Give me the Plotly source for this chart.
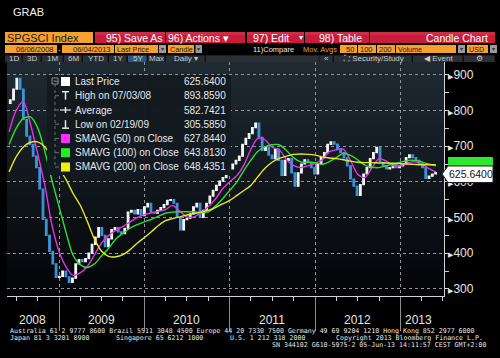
import plotly.graph_objects as go
import pandas as pd

W, H = 500, 358

# ---------------- data ----------------
price_start = "2008-06-06"
price_close = [
    830, 860, 890, 860, 775, 728, 705, 672, 640, 580,
    495, 450, 405, 370, 332, 335, 350, 334, 318, 330,
    370, 382, 376, 385, 400, 425, 445, 472, 450, 418,
    440, 466, 472, 460, 455, 470, 515, 520, 510, 522,
    505, 530, 540, 515, 512, 520, 528, 536, 548, 550,
    540, 500, 465, 494, 498, 510, 530, 540, 500, 520,
    540, 560, 576, 590, 602, 612, 625, 636, 650, 660,
    672, 705, 722, 735, 752, 765, 725, 688, 698, 675,
    665, 692, 660, 618, 660, 665, 625, 588, 625, 650,
    662, 655, 640, 622, 650, 668, 682, 705, 712, 706,
    692, 682, 667, 645, 608, 588, 562, 592, 622, 640,
    665, 682, 697, 655, 645, 636, 640, 648, 640, 645,
    650, 668, 676, 668, 660, 652, 640, 610, 616, 622,
    625.64,
]
first_open = 820

sma_start = "2008-06-01"
sma50 = [740, 800, 825, 760, 680, 590, 480, 405, 360, 338,
         345, 362, 395, 428, 450, 464, 475, 488, 500, 508,
         513, 517, 522, 534, 518, 502, 502, 514, 530, 552,
         580, 600, 618, 645, 690, 722, 718, 697, 690, 662,
         646, 640, 645, 652, 662, 684, 690, 692, 660, 622,
         612, 640, 665, 658, 645, 645, 653, 656, 650, 638,
         628]
sma100 = [705, 750, 778, 782, 752, 685, 605, 530, 455, 395,
          368, 360, 370, 392, 414, 440, 456, 470, 480, 488,
          495, 503, 512, 515, 516, 516, 516, 514, 516, 532,
          552, 576, 600, 630, 660, 685, 698, 704, 704, 688,
          668, 656, 655, 654, 649, 656, 668, 680, 674, 662,
          647, 641, 640, 645, 650, 655, 660, 660, 656, 650,
          645]
sma200 = [628, 670, 698, 711, 712, 698, 670, 638, 605, 568,
          535, 490, 440, 406, 391, 390, 396, 410, 428, 444,
          461, 477, 491, 497, 502, 507, 511, 515, 520, 528,
          538, 548, 562, 575, 590, 614, 638, 655, 666, 672,
          677, 678, 677, 675, 670, 667, 665, 662, 658, 655,
          654, 654, 653, 653, 652, 651, 650, 649, 648, 648,
          648]

y_ticks = [300, 400, 500, 600, 700, 800, 900]
year_labels = ["2008", "2009", "2010", "2011", "2012", "2013"]
year_label_dates = ["2008-09-07", "2009-07-02", "2010-07-02", "2011-07-02", "2012-07-02", "2013-03-17"]

legend_labels = ["Last Price", "High on 07/03/08", "Average", "Low on 02/19/09",
                 "SMAVG (50) on Close", "SMAVG (100) on Close", "SMAVG (200) on Close"]
legend_values = ["625.6400", "893.8590", "582.7421", "305.5850",
                 "627.8440", "643.8130", "648.4351"]
last_price_label = "625.6400"

footer_line1 = "Australia 61 2 9777 8600 Brazil 5511 3048 4500 Europe 44 20 7330 7500 Germany 49 69 9204 1210 Hong Kong 852 2977 6000"
footer_line2 = [("Japan 81 3 3201 8900", 9), ("Singapore 65 6212 1000", 115),
                ("U.S. 1 212 318 2000", 229), ("Copyright 2013 Bloomberg Finance L.P.", 335)]
footer_line3 = "SN 344102 G610-5975-2 05-Jun-13 14:11:57 CEST GMT+2:00"

# ---------------- helpers ----------------
FONT = "Liberation Sans, Arial, sans-serif"
MONO = "DejaVu Sans Mono, monospace"
shapes = []
annotations = []


def px(x):
    return x / W


def py(y):
    return 1 - y / H


def rect(x0, y0, x1, y1, fill, layer="above", line_color=None, line_width=0):
    shapes.append(dict(type="rect", xref="paper", yref="paper",
                       x0=px(x0), x1=px(x1), y0=py(y1), y1=py(y0),
                       fillcolor=fill, layer=layer,
                       line=dict(width=line_width, color=line_color or fill)))


def seg(x0, y0, x1, y1, color, width=1, dash="solid"):
    shapes.append(dict(type="line", xref="paper", yref="paper",
                       x0=px(x0), x1=px(x1), y0=py(y0), y1=py(y1),
                       layer="above", line=dict(color=color, width=width, dash=dash)))


def text(x, y, s, size, color, anchor="left", family=FONT):
    annotations.append(dict(xref="paper", yref="paper", x=px(x), y=py(y), text=s,
                            showarrow=False, xanchor=anchor, yanchor="middle",
                            borderpad=0, font=dict(size=size, color=color, family=family)))


# ---------------- traces ----------------
dates = pd.date_range(price_start, periods=len(price_close), freq="14D")
opens = [first_open] + price_close[:-1]
highs = [max(o, c) for o, c in zip(opens, price_close)]
lows = [min(o, c) for o, c in zip(opens, price_close)]
sma_dates = pd.date_range(sma_start, periods=len(sma50), freq="MS")

fig = go.Figure()
fig.add_trace(go.Candlestick(
    x=dates, open=opens, high=highs, low=lows, close=price_close,
    increasing=dict(line=dict(color="#f4f6f8", width=1.2), fillcolor="#f4f6f8"),
    decreasing=dict(line=dict(color="#3f93dc", width=1.2), fillcolor="#3f93dc"),
    whiskerwidth=0, showlegend=False, hoverinfo="skip"))
for vals, col in [(sma50, "#e632e6"), (sma100, "#2ee02e"), (sma200, "#e6e628")]:
    fig.add_trace(go.Scatter(x=sma_dates, y=vals, mode="lines",
                             line=dict(color=col, width=1.4, shape="spline", smoothing=0.8),
                             showlegend=False, hoverinfo="skip"))

# ---------------- background gradient of the plot area ----------------
top_y, bot_y = 62, 296
n = 26
c_top = (31, 42, 50)
c_bot = (3, 4, 8)
for i in range(n):
    f = i / (n - 1)
    c = tuple(int(round(c_top[k] + (c_bot[k] - c_top[k]) * f)) for k in range(3))
    y0 = top_y + (bot_y - top_y) * i / n
    y1 = top_y + (bot_y - top_y) * (i + 1) / n + 0.5
    rect(7, y0, 444, y1, "rgb(%d,%d,%d)" % c, layer="below")

# ---------------- header ----------------
text(12, 12, "GRAB", 11, "#f0f0f0")

ORANGE = "#f6a02d"
RED = "#c81c3a"
rect(5, 32, 93, 43, ORANGE)
text(6, 37.5, "SPGSCI Index", 11, "#1a1a1a")
for x0, x1 in [(95, 165), (166, 245), (247, 304), (305, 369), (370, 495)]:
    rect(x0, 32, x1, 43, RED)
    rect(x0, 32, x1, 35, "rgba(255,255,255,0.08)")
text(105, 37.5, "95) Save As", 10.5, "#ffffff")
text(167, 37.5, "96) Actions ▾", 10.5, "#ffffff")
text(252, 37.5, "97) Edit", 10.5, "#ffffff")
text(298, 37.5, "▾", 8, "#ffffff")
text(318, 37.5, "98) Table", 10.5, "#ffffff")
text(489, 37.5, "Candle Chart", 10.5, "#ffffff", anchor="right")

GRAY = "#9a9a9a"
row2 = [(5, 57, "06/06/2008", "right"), (62, 114, "06/04/2013", "right"),
        (115, 158, "Last Price", "left"), (168, 194, "Candle", "left"),
        (340, 357, "50", "right"), (358, 376, "100", "right"), (377, 395, "200", "right"),
        (396, 456, "Volume", "left"), (467, 488, "USD", "left")]
for x0, x1, s, al in row2:
    rect(x0, 45, x1, 53, ORANGE)
    if al == "right":
        text(x1 - 2, 49, s, 7.5, "#1a1a1a", anchor="right")
    else:
        text(x0 + 1, 49, s, 7.2, "#1a1a1a")
text(59.5, 49, "-", 8, "#d0d0d0", anchor="center")
for x0, x1 in [(159, 166), (195.5, 202), (458, 465), (490, 497)]:
    rect(x0, 45, x1, 53, GRAY)
    text((x0 + x1) / 2, 49, "▾", 6, "#333333", anchor="center")
text(252, 49, "11)Compare", 7.5, "#e8e8e8")
text(302, 49, "Mov. Avgs", 7.5, "#e0a040")

rect(5, 55, 495, 62, "#0e1114")
btns = [(5, 22, "1D"), (23, 41, "3D"), (42, 63, "1M"), (64, 82, "6M"), (83, 108, "YTD"),
        (109, 127, "1Y"), (128, 147, "5Y"), (148, 165, "Max"), (166, 205, "Daily ▾"),
        (320, 333, "«"), (334, 412, "⛶ Security/Study"), (413, 463, "◀ Event"), (464, 495, "⚙")]
for x0, x1, s in btns:
    fill = "#2a5886" if s == "5Y" else "#2a2f33"
    rect(x0, 55.5, x1 - 0.5, 62, fill)
    text((x0 + x1) / 2, 58.8, s, 8, "#c8ccd0", anchor="center")
rect(206, 55.5, 319.5, 62, "#2a2f33")

# ---------------- legend box ----------------
rect(47, 75, 231, 175, "rgba(19,26,32,0.97)")
rect(52, 78, 58, 84, "rgba(0,0,0,0)", line_color="#8a9096", line_width=1)
seg(53.5, 81, 56.5, 81, "#8a9096")
seg(55, 84, 55, 167, "#6a7076", 1, "dot")
row_y = [81.5, 95.7, 110, 124.2, 138.5, 152.7, 167]
for yy in row_y:
    seg(55, yy, 59, yy, "#6a7076")
icon_fill = ["#ffffff", None, None, None, "#ff2cff", "#22ee22", "#f0f000"]
for yy, lab, val, fcol in zip(row_y, legend_labels, legend_values, icon_fill):
    if fcol:
        rect(61, yy - 4.5, 70, yy + 4.5, fcol)
    text(74, yy, lab, 10, "#e6e8ea")
    text(227, yy, val, 10, "#e6e8ea", anchor="right")
# High icon (T)
seg(62, row_y[1] - 4, 69, row_y[1] - 4, "#e6e8ea", 1.5)
seg(65.5, row_y[1] - 4, 65.5, row_y[1] + 4, "#e6e8ea", 1.5)
# Average icon (-+-)
seg(60, row_y[2], 71, row_y[2], "#e6e8ea", 1.2)
seg(65.5, row_y[2] - 3, 65.5, row_y[2] + 3, "#e6e8ea", 1.5)
# Low icon
seg(65.5, row_y[3] - 4, 65.5, row_y[3] + 4, "#e6e8ea", 1.5)
seg(62, row_y[3] + 4, 69, row_y[3] + 4, "#e6e8ea", 1.5)

# ---------------- last price tag ----------------
rect(448, 157, 493, 166, "#2ee82e")
path = "M %f,%f L %f,%f L %f,%f L %f,%f L %f,%f Z" % (
    px(442), py(174), px(448), py(166), px(493), py(166), px(493), py(182.5), px(448), py(182.5))
shapes.append(dict(type="path", xref="paper", yref="paper", path=path,
                   fillcolor="#ffffff", line=dict(color="#202020", width=1), layer="above"))
text(470.5, 174.3, last_price_label, 10.5, "#111111", anchor="center")

# ---------------- year labels & footer ----------------
for lab, d in zip(year_labels, year_label_dates):
    annotations.append(dict(xref="x", yref="paper", x=d, y=py(320), text=lab,
                            showarrow=False, xanchor="center", yanchor="middle",
                            font=dict(size=12, color="#e6e6e6", family=FONT)))

text(9, 331.3, footer_line1, 6.6, "#e8e8e8", family=MONO)
for s, x in footer_line2:
    text(x, 338.1, s, 6.6, "#e8e8e8", family=MONO)
text(487, 344.9, footer_line3, 6.6, "#e8e8e8", anchor="right", family=MONO)

# ---------------- layout ----------------
tick_text = ["<span style='font-size:7px'>▶</span>%d" % v for v in y_ticks]
fig.update_layout(
    width=W, height=H, margin=dict(l=0, r=0, t=0, b=0),
    paper_bgcolor="#000000", plot_bgcolor="rgba(0,0,0,0)",
    showlegend=False, shapes=shapes, annotations=annotations,
    xaxis=dict(domain=[px(7), px(444)], type="date",
               range=["2008-05-23", "2013-07-06"],
               rangeslider=dict(visible=False),
               showline=True, linecolor="#cfd2d6", linewidth=1,
               ticks="outside", ticklen=34, tickwidth=1, tickcolor="#8a9096",
               tick0="2008-01-01", dtick="M12", showticklabels=False,
               showgrid=True, griddash="dot", gridcolor="#8c96a0", gridwidth=1,
               zeroline=False,
               minor=dict(dtick="M3", tick0="2008-01-01", ticks="outside", ticklen=4,
                          tickcolor="#cfd2d6", showgrid=False)),
    yaxis=dict(domain=[py(296), py(62)], side="right", range=[280, 936],
               tickvals=y_ticks, ticktext=tick_text, ticks="",
               tickfont=dict(size=12, color="#e6e6e6", family=FONT),
               showline=True, linecolor="#cfd2d6", linewidth=1,
               showgrid=True, griddash="dot", gridcolor="#8c96a0", gridwidth=1,
               zeroline=False, ticklabelstandoff=1,
               minor=dict(dtick=50, tick0=0, ticks="outside", ticklen=4,
                          tickcolor="#cfd2d6", showgrid=False)),
)

fig.write_html("out.html")
